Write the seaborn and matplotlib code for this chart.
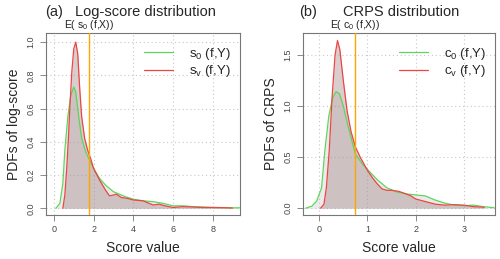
"""
Score distributions: log-score (a) and CRPS (b) PDFs
"""

import pandas as pd
import numpy as np
import matplotlib
matplotlib.use("Agg")
import matplotlib.pyplot as plt
import seaborn as sns

sns.set_theme(style="white")
plt.rcParams["font.family"] = ["Liberation Sans", "DejaVu Sans"]
plt.rcParams["mathtext.default"] = "regular"

# ----------------------------------------------------------------------
# DATA
# ----------------------------------------------------------------------
# (a) log-score densities
ls_s0_x = [0.10, 0.30, 0.45, 0.55, 0.70, 0.85, 1.00, 1.10, 1.25, 1.40, 1.60, 1.80, 2.00,
           2.30, 2.60, 3.00, 3.30, 3.60, 4.00, 4.50, 5.00, 5.50, 6.00, 6.50, 7.00,
           7.50, 8.00, 8.50, 9.00, 9.40]
ls_s0_y = [0.00, 0.03, 0.15, 0.35, 0.55, 0.68, 0.73, 0.70, 0.55, 0.42, 0.34, 0.29, 0.24,
           0.18, 0.14, 0.10, 0.085, 0.07, 0.055, 0.045, 0.04, 0.03, 0.015, 0.015, 0.01,
           0.008, 0.005, 0.004, 0.003, 0.003]
ls_sv_x = [0.45, 0.55, 0.65, 0.72, 0.80, 0.90, 1.00, 1.10, 1.20, 1.30, 1.40, 1.55, 1.70,
           1.85, 2.00, 2.30, 2.60, 2.80, 3.00, 3.15, 3.40, 3.70, 4.00, 4.50, 4.80,
           5.00, 5.30, 5.60, 6.00, 6.50, 7.00, 7.50, 8.00, 8.50, 9.00]
ls_sv_y = [0.00, 0.08, 0.25, 0.40, 0.60, 0.82, 0.96, 1.00, 0.93, 0.72, 0.55, 0.42, 0.35,
           0.30, 0.24, 0.17, 0.11, 0.075, 0.08, 0.085, 0.065, 0.06, 0.05, 0.045, 0.03,
           0.02, 0.025, 0.015, 0.005, 0.01, 0.008, 0.005, 0.005, 0.004, 0.002]
ls_mean = 1.75

# (b) CRPS densities
cr_c0_x = [-0.28, -0.15, -0.05, 0.05, 0.12, 0.20, 0.28, 0.35, 0.42, 0.50, 0.60, 0.75,
           0.90, 1.00, 1.20, 1.40, 1.60, 1.80, 2.00, 2.20, 2.40, 2.60, 2.80, 3.00,
           3.20, 3.40, 3.62]
cr_c0_y = [0.00, 0.02, 0.07, 0.20, 0.57, 0.90, 1.08, 1.14, 1.12, 1.00, 0.80, 0.53,
           0.43, 0.38, 0.28, 0.20, 0.16, 0.14, 0.13, 0.12, 0.08, 0.05, 0.03, 0.025,
           0.03, 0.015, 0.005]
cr_cv_x = [0.03, 0.10, 0.15, 0.21, 0.27, 0.33, 0.38, 0.43, 0.50, 0.58, 0.66, 0.75, 0.85,
           1.00, 1.10, 1.20, 1.30, 1.40, 1.50, 1.65, 1.80, 1.90, 2.00, 2.20, 2.40,
           2.60, 2.80, 3.00, 3.20, 3.42]
cr_cv_y = [0.00, 0.04, 0.20, 0.57, 1.10, 1.50, 1.64, 1.55, 1.25, 0.95, 0.75, 0.60, 0.50,
           0.37, 0.30, 0.24, 0.19, 0.175, 0.175, 0.165, 0.14, 0.12, 0.09, 0.065, 0.04,
           0.03, 0.035, 0.03, 0.015, 0.01]
cr_mean = 0.74

GREEN = "#5cd65c"
RED = "#ee4444"
ORANGE = "#ffa500"

panels = [
    dict(tag="(a)", title="Log-score distribution", ylabel="PDFs of log-score",
         x0=ls_s0_x, y0=ls_s0_y, xv=ls_sv_x, yv=ls_sv_y, mean=ls_mean,
         lab0=r"$s_0$ (f,Y)", labv=r"$s_v$ (f,Y)", elab=r"E( $s_0$ (f,X))",
         xlim=(-0.4, 9.38), ylim=(-0.04, 1.056),
         xticks=[0, 2, 4, 6, 8], yticks=[0.0, 0.2, 0.4, 0.6, 0.8, 1.0],
         yfmt="{:.1f}", rect=[0.092, 0.170, 0.388, 0.703],
         tagx=45, titlex=75),
    dict(tag="(b)", title="CRPS distribution", ylabel="PDFs of CRPS",
         x0=cr_c0_x, y0=cr_c0_y, xv=cr_cv_x, yv=cr_cv_y, mean=cr_mean,
         lab0=r"$c_0$ (f,Y)", labv=r"$c_v$ (f,Y)", elab=r"E( $c_0$ (f,X))",
         xlim=(-0.34, 3.64), ylim=(-0.066, 1.715),
         xticks=[0, 1, 2, 3], yticks=[0.0, 0.5, 1.0, 1.5],
         yfmt="{:.1f}", rect=[0.6054, 0.170, 0.3846, 0.703],
         tagx=299, titlex=343),
]

fig = plt.figure(figsize=(5.0, 2.59), dpi=100)

for p in panels:
    ax = fig.add_axes(p["rect"])
    d0 = pd.DataFrame({"x": p["x0"], "y": p["y0"]})
    dv = pd.DataFrame({"x": p["xv"], "y": p["yv"]})

    # filled densities
    ax.fill_between(d0["x"], d0["y"], color="#bebebe", alpha=0.3, lw=0, zorder=2)
    ax.fill_between(dv["x"], dv["y"], color="#a08282", alpha=0.4, lw=0, zorder=2)
    sns.lineplot(data=d0, x="x", y="y", ax=ax, color=GREEN, lw=0.9,
                 sort=False, estimator=None, label=p["lab0"], zorder=3)
    sns.lineplot(data=dv, x="x", y="y", ax=ax, color=RED, lw=0.9,
                 sort=False, estimator=None, label=p["labv"], zorder=3)
    ax.axvline(p["mean"], color=ORANGE, lw=1.0, zorder=4)

    ax.set_xlim(*p["xlim"])
    ax.set_ylim(*p["ylim"])
    ax.set_xticks(p["xticks"])
    ax.set_yticks(p["yticks"])
    ax.set_xticklabels([str(t) for t in p["xticks"]])
    ax.set_yticklabels([p["yfmt"].format(t) for t in p["yticks"]],
                       rotation=90, va="center")
    ax.grid(True, linestyle=(0, (1, 2.5)), color="#c8c8c8", lw=0.8, zorder=0)
    ax.set_axisbelow(True)
    for s in ax.spines.values():
        s.set_color("#777777")
        s.set_linewidth(0.8)
    ax.tick_params(axis="both", direction="out", length=4.5, width=0.6,
                   color="#777777", labelcolor="#444444", labelsize=6.5, pad=3,
                   left=True, bottom=True)
    ax.set_xlabel("Score value", fontsize=10, labelpad=5)
    ax.set_ylabel(p["ylabel"], fontsize=10, labelpad=4)

    leg = ax.legend(loc="upper right", frameon=False, fontsize=9.5,
                    handlelength=2.2, handletextpad=1.2, labelspacing=0.12,
                    borderaxespad=0.3, bbox_to_anchor=(1.0, 0.98))
    for line in leg.get_lines():
        line.set_linewidth(0.9)

    ax.annotate(p["elab"], xy=(p["mean"], 1.0), xycoords=("data", "axes fraction"),
                xytext=(0, 1), textcoords="offset points",
                ha="center", va="bottom", fontsize=7.5, color="#222222")

    fig.text(p["tagx"] / 500, 0.955, p["tag"], fontsize=10.5, va="center", ha="left")
    fig.text(p["titlex"] / 500, 0.955, p["title"], fontsize=10.5, va="center", ha="left")

fig.savefig("out.png", dpi=100)
plt.close(fig)
